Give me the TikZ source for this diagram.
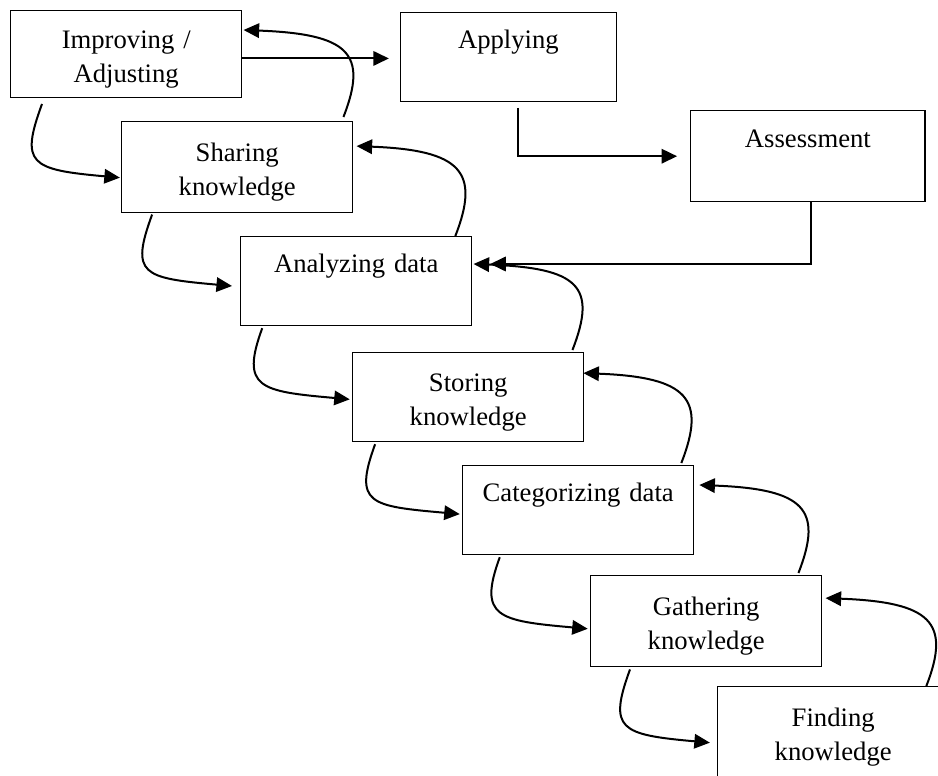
\documentclass[tikz,border=0pt]{standalone}
\usepackage{fontspec}
\setmainfont{Liberation Serif}
\usetikzlibrary{arrows.meta}

\begin{document}
\begin{tikzpicture}[x=0.45pt, y=-0.45pt, stage/.style={rectangle, draw, line width=0.6pt, anchor=north west, inner sep=0pt, text width=104pt, minimum height=40pt, align=center, font=\fontsize{12}{15.5}\selectfont, execute at begin node={\rule{0pt}{12.7pt}}}, arrow/.style={line width=0.9pt, ->, >={Triangle[length=7pt,width=6.5pt]}}]
\useasboundingbox (0,0) rectangle (938,776);
\node [stage, minimum height=39pt] (improve) at (10,10) {Improving /\\Adjusting};
\node [stage, text width=97pt] (apply) at (400,12) {Applying\\\strut};
\node [stage, minimum height=41pt] (share) at (121,121) {Sharing\\knowledge};
\node [stage, text width=105.5pt, minimum height=41pt] (assess) at (690,110) {Assessment\\\strut};
\node [stage] (analyze) at (240,236) {Analyzing data\\\strut};
\node [stage] (store) at (352,352) {Storing\\knowledge};
\node [stage] (sort) at (462,465) {Categorizing data\\\strut};
\node [stage, minimum height=41pt] (gather) at (590,575) {Gathering\\knowledge};
\node [stage, minimum height=41pt] (find) at (717,686) {Finding\\knowledge};
\coordinate (impout) at ([yshift=-2pt]improve.east);
\draw [arrow, shorten >=5pt] (impout) -- (impout -| apply.west);
\draw [arrow, shorten >=5.8pt] ([xshift=4.5pt,yshift=-2.5pt]apply.south) |- (assess.west);
\draw [arrow] ([xshift=1.5pt]assess.south) |- ([xshift=8pt,yshift=-12.6pt]analyze.north east);
% downward steps
\draw [arrow] ([xshift=14.4pt,yshift=-2.7pt]improve.south west) .. controls +(-22,60) and +(-90,-8) .. ([xshift=-0.5pt,yshift=-4.7pt]share.west);
\draw [arrow] ([xshift=14pt,yshift=-0.5pt]share.south west) .. controls +(-22,60) and +(-90,-8) .. ([xshift=-3.6pt,yshift=-2.2pt]analyze.west);
\draw [arrow] ([xshift=10pt,yshift=-0.9pt]analyze.south west) .. controls +(-22,60) and +(-90,-8) .. ([xshift=-1pt,yshift=-1pt]store.west);
\draw [arrow] ([xshift=10.4pt,yshift=-0.9pt]store.south west) .. controls +(-22,60) and +(-90,-8) .. ([xshift=-1pt,yshift=-1.8pt]sort.west);
\draw [arrow] ([xshift=17pt,yshift=-0.9pt]sort.south west) .. controls +(-22,60) and +(-90,-8) .. ([xshift=-1pt,yshift=-3.4pt]gather.west);
\draw [arrow] ([xshift=18pt,yshift=-0.9pt]gather.south west) .. controls +(-22,60) and +(-90,-8) .. ([xshift=-3.2pt,yshift=-4.7pt]find.west);
% upward steps
\draw [arrow] ([xshift=-4.5pt,yshift=1.8pt]share.north east) .. controls +(25,-64) and +(105,4) .. ([xshift=0.5pt,yshift=-9pt]improve.north east);
\draw [arrow] ([xshift=-7.7pt]analyze.north east) .. controls +(25,-64) and +(105,4) .. ([xshift=1.4pt,yshift=-11.3pt]share.north east);
\draw [arrow] ([xshift=-5.4pt,yshift=0.9pt]store.north east) .. controls +(25,-64) and +(105,4) .. ([xshift=0.5pt,yshift=-12.6pt]analyze.north east);
\draw [arrow] ([xshift=-5.9pt,yshift=0.9pt]sort.north east) .. controls +(25,-64) and +(105,4) .. ([xshift=-0.5pt,yshift=-9.5pt]store.north east);
\draw [arrow] ([xshift=-10.8pt,yshift=0.9pt]gather.north east) .. controls +(25,-64) and +(105,4) .. ([xshift=2.2pt,yshift=-9pt]sort.north east);
\draw [arrow] ([xshift=-10.4pt]find.north east) .. controls +(25,-64) and +(105,4) .. ([xshift=1.4pt,yshift=-10.4pt]gather.north east);
\end{tikzpicture}
\end{document}
